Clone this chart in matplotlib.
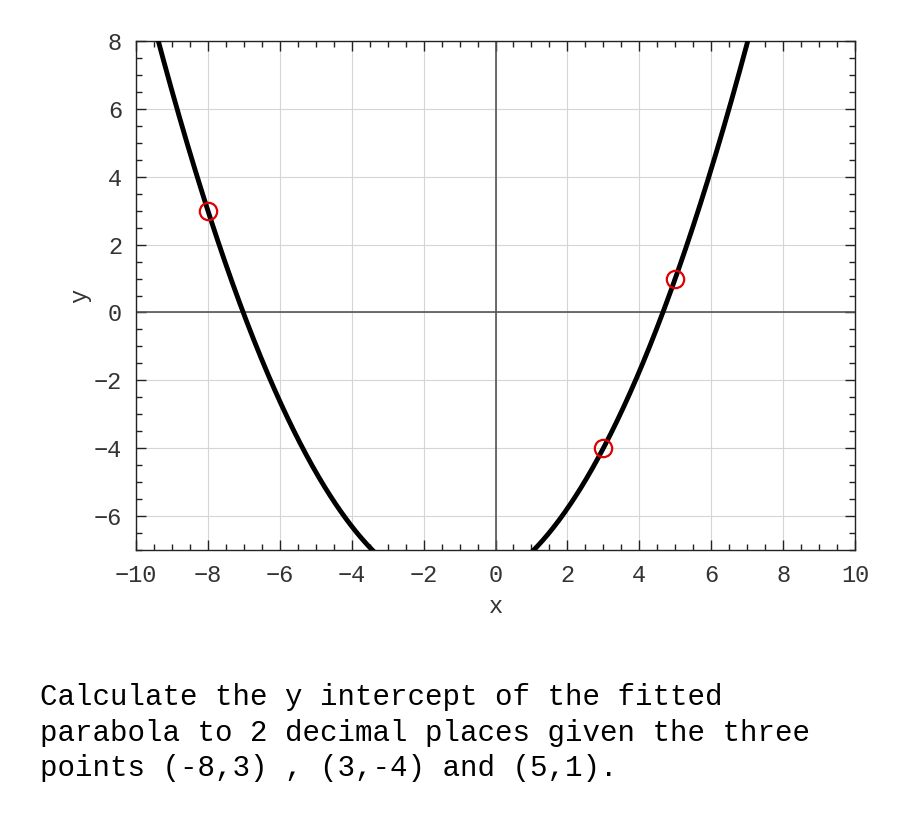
import numpy as np
import matplotlib
matplotlib.use("Agg")
import matplotlib.pyplot as plt
from matplotlib.ticker import MultipleLocator

point_x = [-8, 3, 5]
point_y = [3, -4, 1]
x_ticks = [-10, -8, -6, -4, -2, 0, 2, 4, 6, 8, 10]
y_ticks = [-6, -4, -2, 0, 2, 4, 6, 8]
question = ("Calculate the y intercept of the fitted\n"
            "parabola to 2 decimal places given the three\n"
            "points (-8,3) , (3,-4) and (5,1).")

plt.rcParams['font.family'] = ['Liberation Mono', 'DejaVu Sans Mono']
plt.rcParams['axes.unicode_minus'] = True

coef = np.polyfit(point_x, point_y, 2)
xs = np.linspace(-10, 10, 800)
ys = np.polyval(coef, xs)

fig = plt.figure(figsize=(9, 8.25), dpi=100)
ax = fig.add_axes([136/900, 1-550/825, (855-136)/900, (550-41)/825])

ax.grid(True, color='#d5d5d5', lw=0.8)
ax.axhline(0, color='#555555', lw=1.2, zorder=2)
ax.axvline(0, color='#555555', lw=1.2, zorder=2)
ax.plot(xs, ys, color='black', lw=3.5, zorder=3)
ax.plot(point_x, point_y, 'o', mfc='none', mec='#e00000', ms=12.5, mew=1.6, zorder=4)

ax.set_xlim(-10, 10)
ax.set_ylim(-7, 8)
ax.set_xticks(x_ticks)
ax.set_yticks(y_ticks)
ax.xaxis.set_minor_locator(MultipleLocator(0.5))
ax.yaxis.set_minor_locator(MultipleLocator(0.5))
ax.tick_params(which='both', direction='in', top=True, right=True, color='#222222')
ax.tick_params(which='major', length=7, width=1)
ax.tick_params(which='minor', length=4, width=1)
ax.tick_params(axis='x', labelsize=17, labelcolor='#333333', pad=10)
ax.tick_params(axis='y', labelsize=17, labelcolor='#333333', pad=10)
for s in ax.spines.values():
    s.set_color('#222222')
    s.set_linewidth(1)
ax.set_xlabel('x', fontsize=17, color='#333333', labelpad=6)
ax.set_ylabel('y', fontsize=17, color='#333333', labelpad=2)

fig.text(40/900, 1-683/825, question, fontsize=21, va='top', ha='left',
         color='black', linespacing=1.35)

fig.savefig('out.png', dpi=100)
